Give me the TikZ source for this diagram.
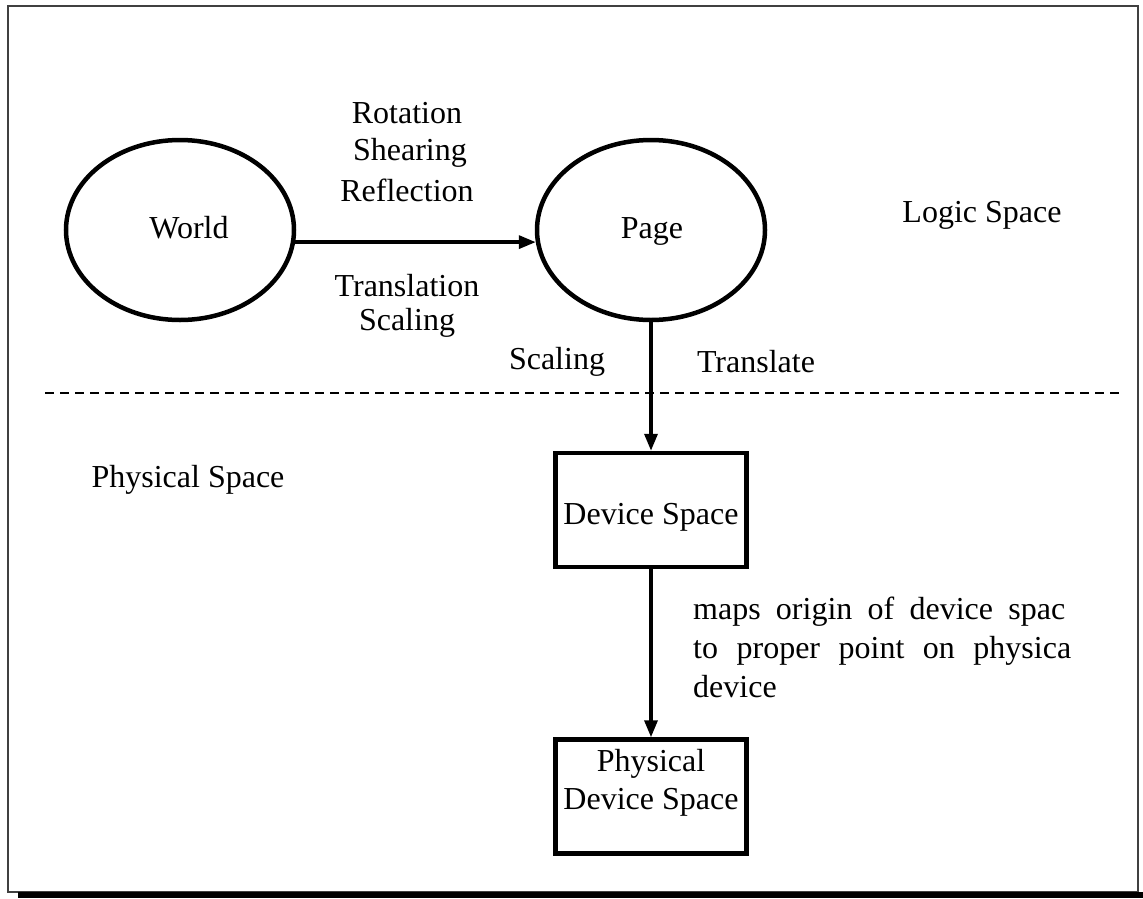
\documentclass[tikz,border=0pt]{standalone}
\usepackage{fontspec}
\setmainfont{Liberation Serif}
\usetikzlibrary{shapes.geometric,arrows.meta}
\begin{document}
\begin{tikzpicture}[x=1pt,y=-1pt,
  every node/.style={font=\fontsize{32}{39}\selectfont, inner sep=0pt},
  oval/.style={draw, ellipse, line width=4.5pt, minimum width=228pt, minimum height=180pt},
  boxnode/.style={draw, rectangle, line width=4.5pt, minimum width=191pt, minimum height=114pt},
  lbl/.style={anchor=center},
  conn/.style={line width=3.4pt, -{Triangle[length=17pt,width=13pt]}}
]
\useasboundingbox (0,0) rectangle (1143,898);
% frame
\draw[line width=1.6pt, black!75] (8,6) rectangle (1138,892);
\draw[line width=6pt] (18,895) -- (1143,895);

% nodes
\node[oval] (world) at (180,230) {};
\node[lbl] (worldt) at (189,228) {World};
\node[oval] (page) at (651,230) {};
\node[lbl] (paget) at (652,231) {Page};
\node[boxnode] (dev) at (651,510) {};
\node[lbl] (devt) at (651,517) {Device Space};
\node[boxnode] (phys) at (651,796.5) {};
\node[lbl, align=center] (physt) at (651,783) {Physical\\[-1pt]Device Space};

% connectors
\draw[conn] (world.-6) -- (page.186);
\draw[conn] (page.south) -- (dev.north);
\draw[conn] (dev.south) -- (phys.north);

% dashed separator
\draw[line width=1.3pt, dash pattern=on 9pt off 6pt] (45,393) coordinate (dl) -- (1120,393) coordinate (dr);

% labels
\node[lbl] (l1) at (407,113) {Rotation};
\node[lbl] (l2) at (410,153) {Shearing};
\node[lbl] (l3) at (407,190) {Reflection};
\node[lbl] (l4) at (407,286) {Translation};
\node[lbl] (l5) at (407,323) {Scaling};
\node[lbl] (l6) at (557,362) {Scaling};
\node[lbl] (l7) at (756,362) {Translate};
\node[lbl] (l8) at (982,215) {Logic Space};
\node[lbl] (l9) at (188,480) {Physical Space};
\node[anchor=north west, align=left] (desc) at (693,597) {%
\makebox[372pt][s]{maps origin of device spac}\\
\makebox[378pt][s]{to proper point on physica}\\
device};
\end{tikzpicture}
\end{document}
